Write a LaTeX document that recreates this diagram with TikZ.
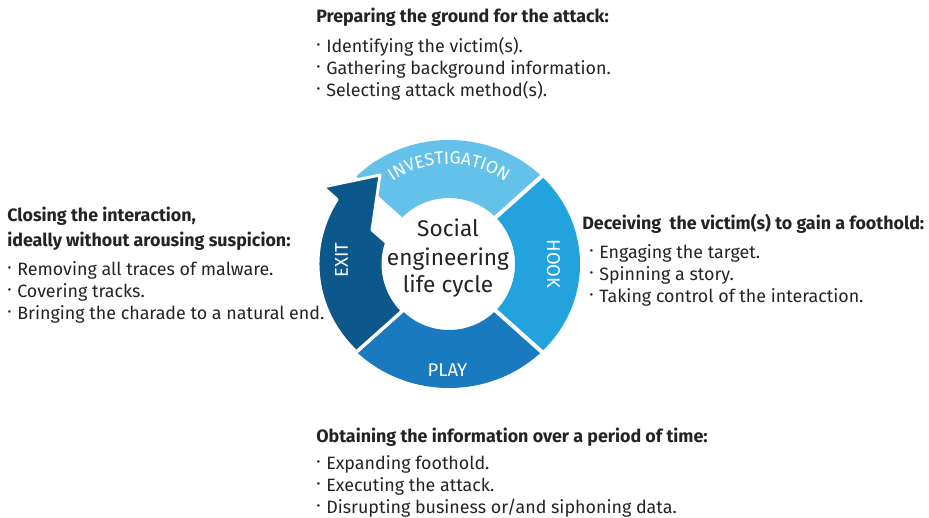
\documentclass[tikz,border=0pt]{standalone}
\usepackage{fontspec}
\setmainfont{Fira Sans}
\usetikzlibrary{decorations.text}
\definecolor{cInv}{RGB}{100,194,234}
\definecolor{cHook}{RGB}{34,163,222}
\definecolor{cPlay}{RGB}{26,122,192}
\definecolor{cExit}{RGB}{13,88,138}
\definecolor{txt}{RGB}{35,35,35}
\newcommand\bul{\makebox[7.5pt][l]{\raisebox{0.3ex}{·}}}
\begin{document}
\begin{tikzpicture}[x=0.75pt,y=0.75pt,
  headtxt/.style={anchor=base west, inner sep=0pt, text=txt, font=\fontsize{13.4}{15}\selectfont\bfseries},
  itemtxt/.style={anchor=base west, inner sep=0pt, text=txt, font=\fontsize{13.4}{16}\selectfont},
  titletxt/.style={anchor=base, inner sep=0pt, text=txt, font=\fontsize{17}{21}\selectfont},
  ringlbl/.style={inner sep=0pt, text=white, font=\fontsize{13.8}{15}\selectfont},
  gapline/.style={white, line width=3pt, shorten <=-5pt, shorten >=-5pt}
]
\useasboundingbox (0,0) rectangle (929,518);

% ring
\begin{scope}[shift={(449,254)}]
  \fill[cInv] (45:131 and 124) arc[start angle=45,end angle=135,x radius=131,y radius=124] -- (135:66) arc[start angle=135,end angle=45,radius=66] -- cycle;
  \fill[cHook] (-45:131 and 124) arc[start angle=-45,end angle=45,x radius=131,y radius=124] -- (45:66) arc[start angle=45,end angle=-45,radius=66] -- cycle;
  \fill[cPlay] (-135:131 and 124) arc[start angle=-135,end angle=-45,x radius=131,y radius=124] -- (-45:66) arc[start angle=-45,end angle=-135,radius=66] -- cycle;
  \draw[gapline] (45:66) -- (45:131 and 124);
  \draw[gapline] (-45:66) -- (-45:131 and 124);
  \draw[gapline] (-135:66) -- (-135:131 and 124);
  \filldraw[fill=cExit, draw=white, line width=2.2pt, line join=round]
    (225:66) arc[start angle=225,end angle=161.2,radius=66] -- (-77,34) -- (-69,89) -- (-126,77)
    -- (148.65:131 and 124) arc[start angle=148.65,end angle=225,x radius=131,y radius=124] -- cycle;
  \path[decorate, decoration={text along path, text align=center,
      text={|\color{white}\fontsize{13.2}{14}\selectfont|INVESTIGATION}}]
    (150:100) arc[start angle=150,end angle=30,radius=100];
\end{scope}

\node[ringlbl, rotate=-90] (hook) at (553.5,254) {HOOK};
\node[ringlbl] (play) at (447.5,147.5) {PLAY};
\node[ringlbl, rotate=90] (exit) at (341.5,258) {EXIT};

\node[titletxt] (t1) at (448,281) {Social};
\node[titletxt] (t2) at (448,252) {engineering};
\node[titletxt] (t3) at (448,225) {life cycle};

% top block
\node[headtxt] (th) at (316,495) {Preparing the ground for the attack:};
\node[itemtxt] (ti1) at (316,465) {\bul Identifying the victim(s).};
\node[itemtxt] (ti2) at (316,443) {\bul Gathering background information.};
\node[itemtxt] (ti3) at (316,421) {\bul Selecting attack method(s).};

% right block
\node[headtxt] (rh) at (582,288) {Deceiving~ the victim(s) to gain a foothold:};
\node[itemtxt] (ri1) at (589,259) {\bul Engaging the target.};
\node[itemtxt] (ri2) at (589,237) {\bul Spinning a story.};
\node[itemtxt] (ri3) at (589,215) {\bul Taking control of the interaction.};

% left block
\node[headtxt] (lh1) at (7,296) {Closing the interaction,};
\node[headtxt] (lh2) at (7,271) {ideally without arousing suspicion:};
\node[itemtxt] (li1) at (7,242) {\bul Removing all traces of malware.};
\node[itemtxt] (li2) at (7,220) {\bul Covering tracks.};
\node[itemtxt] (li3) at (7,198) {\bul Bringing the charade to a natural end.};

% bottom block
\node[headtxt] (bh) at (316,75) {Obtaining the information over a period of time:};
\node[itemtxt] (bi1) at (316,48) {\bul Expanding foothold.};
\node[itemtxt] (bi2) at (316,26) {\bul Executing the attack.};
\node[itemtxt] (bi3) at (316,4) {\bul Disrupting business or/and siphoning data.};
\end{tikzpicture}
\end{document}
